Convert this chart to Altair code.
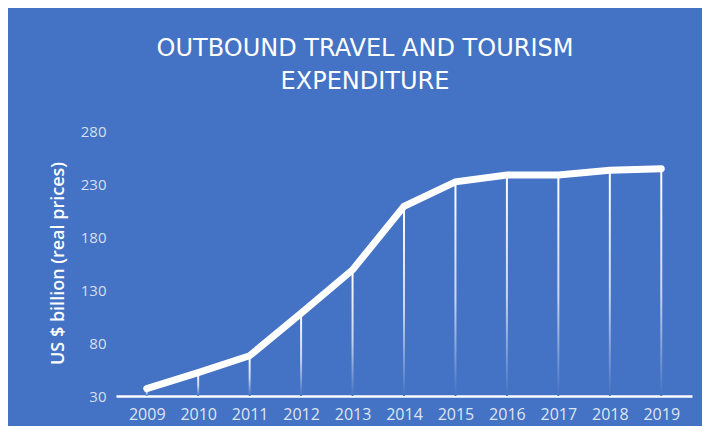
import altair as alt
import pandas as pd

years = [2009, 2010, 2011, 2012, 2013, 2014, 2015, 2016, 2017, 2018, 2019]
values = [37, 52, 68, 108, 149, 209, 232, 238.5, 238.5, 243, 244.5]
y_ticks = [30, 80, 130, 180, 230, 280]
title_lines = ["OUTBOUND TRAVEL AND TOURISM", "EXPENDITURE"]
y_title = "US $ billion (real prices)"

BLUE = "#4472C4"

df = pd.DataFrame({"year": years, "value": values, "base": [30] * len(years)})

xscale = alt.Scale(domain=[2008.5, 2019.5], nice=False, zero=False)
yscale = alt.Scale(domain=[30, 280], nice=False, zero=False)

base = alt.Chart(df)

drops = base.mark_bar(
    size=2,
    color=alt.Gradient(
        gradient="linear",
        x1=0, y1=0, x2=0, y2=1,
        stops=[alt.GradientStop(offset=0, color="white"),
               alt.GradientStop(offset=0.55, color="#c9d6ee"),
               alt.GradientStop(offset=1, color=BLUE)],
    ),
).encode(
    x=alt.X("year:Q", scale=xscale,
            axis=alt.Axis(values=years, format="d", title=None, ticks=False, grid=False,
                          domain=True, domainColor="white", domainWidth=2.5,
                          labelColor="#dfe6f3", labelFontSize=16, labelFont="Open Sans",
                          labelPadding=10, labelFlush=False)),
    y=alt.Y("value:Q", scale=yscale,
            axis=alt.Axis(values=y_ticks, title=y_title, ticks=False, grid=False, domain=False,
                          labelColor="#d6dff0", labelFontSize=15, labelFont="Open Sans",
                          labelPadding=10,
                          titleColor="white", titleFontSize=18, titleFont="Open Sans",
                          titleFontWeight=600, titleAngle=-90, titleAlign="center",
                          titleBaseline="middle", titleX=-58, titleY=132)),
    y2="base:Q",
)

line = base.mark_line(color="white", strokeWidth=7, strokeCap="round").encode(
    x=alt.X("year:Q", scale=xscale),
    y=alt.Y("value:Q", scale=yscale),
)

chart = alt.layer(drops, line).properties(
    width=576,
    height=265,
    padding={"left": 108, "top": 123, "right": 10, "bottom": 30},
    autosize=alt.AutoSizeParams(type="none"),
    background=BLUE,
    title=alt.TitleParams(
        text=title_lines, color="white", fontSize=24, font="DejaVu Sans",
        fontWeight="normal", anchor="middle", dx=-39, lineHeight=33, offset=30,
    ),
).configure_view(stroke=None)

chart.save("out.html", embed_options={"renderer": "svg", "actions": False})
